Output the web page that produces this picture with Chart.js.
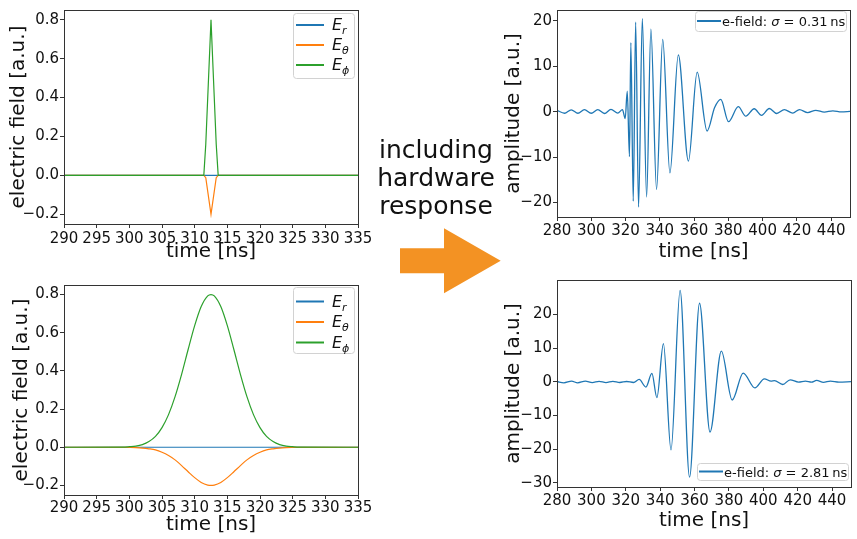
<!DOCTYPE html>
<html>
<head>
<meta charset="utf-8">
<script src="https://cdn.jsdelivr.net/npm/chart.js@4.4.0/dist/chart.umd.min.js"></script>
<style>
  html, body { margin: 0; padding: 0; background: #fff; }
  body { width: 857px; height: 539px; position: relative; overflow: hidden; font-family: 'DejaVu Sans', sans-serif; }
  canvas { position: absolute; }
  #caption { position: absolute; left: 336px; top: 135.5px; width: 200px; text-align: center;
             font-size: 25px; line-height: 28.3px; color: #111; }
  #arrow { position: absolute; left: 395px; top: 222px; }
</style>
</head>
<body>
<canvas id="tl" width="380" height="264" style="left:0;top:0"></canvas>
<canvas id="bl" width="380" height="269" style="left:0;top:270px"></canvas>
<canvas id="tr" width="367" height="264" style="left:490px;top:0"></canvas>
<canvas id="br" width="367" height="269" style="left:490px;top:270px"></canvas>
<div id="caption">including<br>hardware<br>response</div>
<svg id="arrow" width="112" height="78">
  <polygon points="5,26.3 49,26.3 49,6.3 105.7,38.7 49,71.3 49,51.3 5,51.3" fill="#f39223"/>
</svg>
<script>
// tick labels
const xTicksLeft = [290, 295, 300, 305, 310, 315, 320, 325, 330, 335];
const yTicksLeft = [-0.2, 0.0, 0.2, 0.4, 0.6, 0.8];
const xTicksRight = [280, 300, 320, 340, 360, 380, 400, 420, 440];
const yTicksTopRight = [-20, -10, 0, 10, 20];
const yTicksBottomRight = [-30, -20, -10, 0, 10, 20];

// top left: narrow pulse (sigma 0.31 ns)
const narrowTime   = [290, 311.4, 311.7, 312.5, 313.3, 313.6, 335];
const narrowEr     = [0, 0, 0, 0, 0, 0, 0];
const narrowEtheta = [0, 0, -0.012, -0.2, -0.012, 0, 0];
const narrowEphi   = [0, 0, 0.16, 0.8, 0.16, 0, 0];

// bottom left: wide pulse (sigma 2.81 ns)
const wideTime = [290, 299, 300, 301, 302, 303, 304, 305, 306, 307, 308, 309, 310, 311, 312, 312.5,
                  313, 314, 315, 316, 317, 318, 319, 320, 321, 322, 323, 324, 325, 326, 335];
const wideEr = [0, 0, 0, 0, 0, 0, 0, 0, 0, 0, 0, 0, 0, 0, 0, 0,
                0, 0, 0, 0, 0, 0, 0, 0, 0, 0, 0, 0, 0, 0, 0];
const wideEtheta = [0, -0.0003, -0.001, -0.002, -0.004, -0.008, -0.014, -0.026, -0.043, -0.066, -0.096,
                    -0.128, -0.159, -0.184, -0.198, -0.2, -0.198, -0.184, -0.159, -0.128, -0.096, -0.066,
                    -0.043, -0.026, -0.014, -0.008, -0.004, -0.002, -0.001, -0.0003, 0];
const wideEphi = [0, 0.001, 0.003, 0.006, 0.014, 0.030, 0.057, 0.103, 0.171, 0.265, 0.382,
                  0.512, 0.637, 0.737, 0.793, 0.8, 0.793, 0.737, 0.637, 0.512, 0.382, 0.265,
                  0.171, 0.103, 0.057, 0.030, 0.014, 0.006, 0.003, 0.001, 0];

// top right: narrow pulse after hardware response
const topTime = [280, 284.4, 288.3, 292.2, 296, 300, 303.8, 307.7, 311.5, 315.5, 318.2, 319.8,
                 321.0, 322.3, 323.1, 324.5, 325.9, 327.6, 329.8, 332.3, 334.8, 338.1, 341.7,
                 345.9, 350.8, 356.7, 361.8, 367.6, 372.0, 375.6, 380.1, 385.8, 390.2, 395.1,
                 399.4, 403.9, 408.2, 412.7, 417.6, 421.5, 426.3, 431, 436, 441, 446, 451];
const topAmp = [0.3, -0.35, 0.4, -0.35, 0.45, -0.35, 0.45, -0.4, 0.5, -0.3, 0.45, -1.5,
                4.5, -9.9, 15.2, -19.7, 19.7, -21, 20.5, -18.8, 18.2, -17.1, 15.9,
                -13.5, 12.5, -10.9, 8.7, -4.25, 0.9, 2.7, -2.2, 1.1, -1.0, 0.65,
                -0.8, 0.7, -0.4, 0.45, -0.3, 0.45, -0.2, 0.3, -0.1, 0.2, -0.05, 0.05];

// bottom right: wide pulse after hardware response
const bottomTime = [280, 284, 288.5, 292, 296.5, 300.5, 304.5, 308.5, 312.5, 316.5, 320.5, 324.5,
                    327.8, 331.7, 335.2, 338.1, 341.9, 346.3, 351.6, 357.1, 362.9, 369.0, 375.6,
                    381.9, 388.3, 395.1, 400.6, 404.5, 406.5, 411.3, 415.6, 420.5, 424.5, 428,
                    431, 435, 439, 444, 451];
const bottomAmp = [0.1, -0.3, 0.2, -0.3, 0.2, -0.25, 0.15, -0.25, 0.15, -0.2, 0.1, -0.2,
                   0.7, -1.55, 2.5, -4.7, 11.3, -20.2, 27.1, -28.3, 23.3, -14.9, 9.1,
                   -5.4, 2.6, -1.8, 0.9, 0.2, 0.35, -0.8, 0.6, -0.1, 0.2, -0.1,
                   0.4, -0.15, 0.2, -0.1, 0.05];

const BLUE = '#1f77b4', ORANGE = '#ff7f0e', GREEN = '#2ca02c';

document.addEventListener('DOMContentLoaded', () => {

    Chart.defaults.font.family = 'DejaVu Sans';
    Chart.defaults.color = '#111';

    const minus = s => s.replace('-', '\u2212');
    const toPoints = (xs, ys) => xs.map((x, i) => ({ x: x, y: ys[i] }));

    // 1. axes frame (matplotlib style box)
    const frame = {
        id: 'frame',
        afterDraw(chart) {
            const { ctx, chartArea: a } = chart;
            ctx.save();
            ctx.strokeStyle = '#333';
            ctx.lineWidth = 1;
            ctx.strokeRect(Math.round(a.left) + 0.5, Math.round(a.top) + 0.5,
                           Math.round(a.width), Math.round(a.height));
            ctx.restore();
        }
    };

    // 2. legend with math-style labels, drawn inside the plot area
    const mathLegend = {
        id: 'mathLegend',
        afterDraw(chart, args, o) {
            const { ctx, chartArea: a } = chart;
            const x0 = Math.round(a.right - o.right - o.width);
            const y0 = Math.round(o.fromBottom ? a.bottom - o.offset - o.height : a.top + o.offset);
            ctx.save();
            ctx.beginPath();
            ctx.roundRect(x0 + 0.5, y0 + 0.5, o.width, o.height, 3);
            ctx.fillStyle = 'rgba(255,255,255,0.85)';
            ctx.fill();
            ctx.strokeStyle = '#d2d2d2';
            ctx.lineWidth = 1;
            ctx.stroke();
            o.items.forEach((it, i) => {
                const y = y0 + o.rowTop + i * o.rowGap;
                ctx.strokeStyle = it.color;
                ctx.lineWidth = 2;
                ctx.beginPath();
                ctx.moveTo(x0 + o.lineX0, y);
                ctx.lineTo(x0 + o.lineX1, y);
                ctx.stroke();
                let x = x0 + o.textX;
                ctx.fillStyle = '#111';
                ctx.textBaseline = 'alphabetic';
                it.parts.forEach(p => {
                    ctx.font = p.font;
                    ctx.fillText(p.text, x, y + o.base + (p.dy || 0));
                    x += ctx.measureText(p.text).width;
                });
            });
            ctx.restore();
        }
    };

    const italic = 'italic 16px DejaVu Sans', sub = 'italic 11px DejaVu Sans';
    const fieldItems = [
        { color: BLUE,   parts: [{ text: 'E', font: italic }, { text: 'r', font: sub, dy: 4 }] },
        { color: ORANGE, parts: [{ text: 'E', font: italic }, { text: '\u03b8', font: sub, dy: 4 }] },
        { color: GREEN,  parts: [{ text: 'E', font: italic }, { text: '\u03d5', font: sub, dy: 4 }] }
    ];
    const sigmaItem = (val) => [{
        color: BLUE,
        parts: [
            { text: 'e-field: ', font: '13px DejaVu Sans' },
            { text: '\u03c3', font: 'italic 13px DejaVu Sans' },
            { text: ' = ' + val + '\u2009ns', font: '13px DejaVu Sans' }
        ]
    }];

    // 3. shared chart builder
    function buildChart(id, o) {
        return new Chart(document.getElementById(id), {
            type: 'line',
            data: { datasets: o.datasets },
            options: {
                responsive: false,
                animation: false,
                events: [],
                layout: { padding: { top: o.padTop, right: o.padRight, bottom: 0, left: 0 } },
                elements: { point: { radius: 0 } },
                plugins: { legend: { display: false }, tooltip: { enabled: false }, mathLegend: o.legend },
                scales: {
                    x: {
                        type: 'linear', min: o.xMin, max: o.xMax,
                        afterBuildTicks: s => { s.ticks = o.xTicks.map(v => ({ value: v })); },
                        afterFit: s => { s.height = o.xHeight; },
                        ticks: { autoSkip: false, maxRotation: 0, minRotation: 0, padding: o.xTickPad,
                                 font: { size: o.tickSize }, color: '#111', callback: v => String(v) },
                        grid: { drawOnChartArea: false, tickLength: 4, color: '#333' },
                        border: { display: false },
                        title: { display: true, text: 'time [ns]', font: { size: 20 }, color: '#111',
                                 padding: { top: 0, bottom: o.xTitlePad } }
                    },
                    y: {
                        type: 'linear', min: o.yMin, max: o.yMax,
                        afterBuildTicks: s => { s.ticks = o.yTicks.map(v => ({ value: v })); },
                        afterFit: s => { s.width = o.yWidth; },
                        ticks: { autoSkip: false, padding: 1, font: { size: o.tickSize }, color: '#111',
                                 callback: v => minus(v.toFixed(o.yDigits)) },
                        grid: { drawOnChartArea: false, tickLength: 4, color: '#333' },
                        border: { display: false },
                        title: { display: true, text: o.yTitle, font: { size: 20 }, color: '#111',
                                 padding: { top: o.yTitlePad, bottom: 0 } }
                    }
                }
            },
            plugins: [frame, mathLegend]
        });
    }

    const fieldSets = (t, er, eth, eph, tension) => [
        { data: toPoints(t, er),  borderColor: BLUE,   borderWidth: 1.2, order: 3, tension: tension },
        { data: toPoints(t, eth), borderColor: ORANGE, borderWidth: 1.2, order: 2, tension: tension },
        { data: toPoints(t, eph), borderColor: GREEN,  borderWidth: 1.2, order: 1, tension: tension }
    ].map(d => tension ? Object.assign(d, { cubicInterpolationMode: 'monotone' }) : d);

    const leftLegend = (rowGap) => ({
        items: fieldItems, right: 4, width: 61, height: 65, offset: 3, fromBottom: false,
        rowTop: 12, rowGap: rowGap, lineX0: 3, lineX1: 31, textX: 39, base: 5
    });

    // 4. top left
    buildChart('tl', {
        datasets: fieldSets(narrowTime, narrowEr, narrowEtheta, narrowEphi, 0),
        xMin: 290, xMax: 335, yMin: -0.25, yMax: 0.85, xTicks: xTicksLeft, yTicks: yTicksLeft,
        yDigits: 1, yTitle: 'electric field [a.u.]', tickSize: 15,
        padTop: 6, padRight: 22, yWidth: 64, xHeight: 40, xTickPad: 2, xTitlePad: 0, yTitlePad: 7,
        legend: leftLegend(20)
    });

    // 5. bottom left
    buildChart('bl', {
        datasets: fieldSets(wideTime, wideEr, wideEtheta, wideEphi, 0.4),
        xMin: 290, xMax: 335, yMin: -0.25, yMax: 0.85, xTicks: xTicksLeft, yTicks: yTicksLeft,
        yDigits: 1, yTitle: 'electric field [a.u.]', tickSize: 15,
        padTop: 15, padRight: 22, yWidth: 64, xHeight: 44, xTickPad: 0, xTitlePad: 2, yTitlePad: 10,
        legend: Object.assign(leftLegend(20.5), { offset: 2, height: 66, rowTop: 14.5 })
    });

    // 6. top right
    buildChart('tr', {
        datasets: [{ data: toPoints(topTime, topAmp), borderColor: BLUE, borderWidth: 1.3,
                     cubicInterpolationMode: 'monotone', tension: 0.4 }],
        xMin: 280, xMax: 451, yMin: -23.2, yMax: 22.4, xTicks: xTicksRight, yTicks: yTicksTopRight,
        yDigits: 0, yTitle: 'amplitude [a.u.]', tickSize: 15,
        padTop: 7, padRight: 7, yWidth: 67, xHeight: 47, xTickPad: 1, xTitlePad: 0, yTitlePad: 11.5,
        legend: { items: sigmaItem('0.31'), right: 4, width: 151, height: 20, offset: 1, fromBottom: false,
                  rowTop: 10, rowGap: 0, lineX0: 2, lineX1: 26, textX: 27, base: 5 }
    });

    // 7. bottom right
    buildChart('br', {
        datasets: [{ data: toPoints(bottomTime, bottomAmp), borderColor: BLUE, borderWidth: 1.3,
                     cubicInterpolationMode: 'monotone', tension: 0.4 }],
        xMin: 280, xMax: 451, yMin: -31.2, yMax: 30.2, xTicks: xTicksRight, yTicks: yTicksBottomRight,
        yDigits: 0, yTitle: 'amplitude [a.u.]', tickSize: 15,
        padTop: 7, padRight: 6, yWidth: 67, xHeight: 52, xTickPad: 1, xTitlePad: 6, yTitlePad: 11.7,
        legend: { items: sigmaItem('2.81'), right: 3, width: 151, height: 17, offset: 7, fromBottom: true,
                  rowTop: 8.5, rowGap: 0, lineX0: 2, lineX1: 26, textX: 27, base: 5 }
    });
});
</script>
</body>
</html>
